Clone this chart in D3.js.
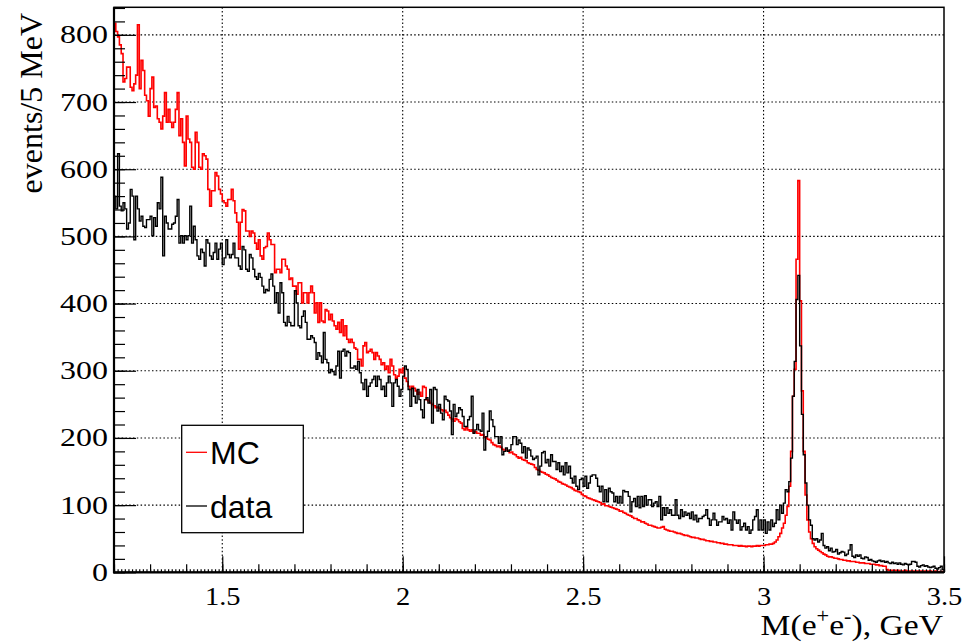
<!DOCTYPE html>
<html>
<head>
<meta charset="utf-8">
<script src="https://cdn.jsdelivr.net/npm/d3@7"></script>
<style>
  body { margin: 0; background: #fff; }
</style>
</head>
<body>
<script>
// histogram binning: 5 MeV bins from 1.2 GeV
const binLow = 1.2;
const binWidth = 0.005;

// MC counts per bin (rows of 10 bins)
const mcCounts = [
  817, 805, 797, 785, 772, 730, 735, 752, 752, 722,
  717, 727, 740, 815, 720, 762, 747, 710, 702, 679,
  720, 737, 692, 694, 675, 670, 660, 679, 714, 670,
  689, 670, 662, 670, 689, 714, 650, 675, 640, 605,
  679, 645, 640, 603, 600, 655, 640, 603, 600, 623,
  620, 615, 570, 545, 568, 568, 595, 590, 570, 563,
  553, 550, 545, 555, 555, 570, 553, 535, 521, 481,
  521, 540, 538, 508, 508, 500, 508, 505, 490, 481,
  495, 471, 466, 483, 485, 505, 495, 488, 488, 446,
  451, 451, 446, 466, 466, 456, 451, 436, 438, 426,
  426, 414, 431, 431, 401, 416, 416, 401, 416, 426,
  416, 386, 401, 372, 401, 374, 372, 391, 389, 376,
  384, 374, 367, 362, 372, 357, 376, 352, 367, 347,
  342, 347, 342, 334, 332, 317, 317, 307, 337, 342,
  327, 329, 332, 327, 317, 327, 322, 317, 309, 312,
  302, 307, 297, 317, 307, 294, 289, 292, 302, 297,
  304, 289, 284, 277, 272, 277, 274, 270, 265, 268,
  262, 277, 275, 257, 255, 252, 250, 248, 245, 246,
  244, 242, 240, 241, 238, 234, 230, 228, 225, 229,
  227, 224, 222, 214, 212, 215, 212, 210, 212, 209,
  209, 207, 207, 204, 205, 201, 200, 198, 197, 193,
  190, 189, 187, 188, 186, 183, 182, 182, 181, 178,
  179, 176, 175, 172, 170, 171, 168, 167, 166, 163,
  162, 161, 160, 156, 153, 152, 150, 149, 148, 146,
  145, 143, 141, 140, 139, 137, 135, 134, 132, 131,
  130, 128, 127, 126, 124, 122, 121, 120, 119, 116,
  114, 113, 111, 110, 109, 108, 107, 106, 105, 104,
  101, 102, 99, 99, 98, 97, 96, 95, 94, 93,
  91, 91, 89, 88, 86, 85, 84, 82, 80, 80,
  78, 77, 75, 75, 73, 72, 70, 70, 69, 68,
  67, 66, 66, 67, 68, 64, 63, 62, 61, 61,
  60, 59, 58, 58, 57, 56, 55, 55, 54, 53,
  52, 52, 51, 51, 50, 49, 49, 48, 47, 47,
  46, 46, 45, 45, 44, 44, 43, 43, 42, 42,
  41, 41, 41, 40, 40, 40, 39, 40, 39, 39,
  38, 39, 39, 38, 39, 39, 40, 39, 40, 40,
  40, 41, 41, 42, 42, 43, 45, 48, 53, 58,
  66, 73, 85, 98, 128, 180, 262, 302, 466, 583,
  404, 270, 180, 115, 78, 60, 50, 43, 38, 35,
  33, 31, 29, 27, 26, 24, 23, 23, 22, 21,
  21, 20, 19, 19, 18, 18, 17, 17, 16, 16,
  16, 15, 15, 14, 14, 14, 13, 13, 13, 12,
  12, 12, 11, 11, 10, 10, 9, 9, 4, 3,
  3, 3, 3, 3, 3, 2, 2, 2, 3, 2,
  2, 2, 2, 1, 2, 2, 2, 2, 1, 2,
  2, 1, 2, 1, 1, 2, 1, 1, 1, 1
];

// data counts per bin (rows of 10 bins)
const dataCounts = [
  560, 541, 623, 545, 538, 550, 541, 511, 520, 570,
  560, 495, 560, 541, 523, 530, 515, 513, 525, 525,
  530, 501, 528, 515, 550, 541, 588, 471, 530, 520,
  511, 511, 518, 520, 530, 555, 490, 501, 490, 501,
  495, 501, 545, 490, 515, 495, 471, 466, 481, 476,
  456, 495, 490, 471, 466, 476, 490, 466, 481, 490,
  458, 468, 495, 473, 468, 473, 490, 468, 468, 456,
  451, 485, 480, 451, 448, 473, 468, 451, 440, 436,
  445, 439, 426, 416, 421, 419, 436, 444, 426, 401,
  416, 386, 431, 416, 372, 367, 381, 372, 367, 367,
  419, 401, 367, 364, 381, 389, 372, 347, 347, 352,
  349, 342, 317, 327, 322, 312, 357, 317, 312, 297,
  302, 299, 294, 307, 329, 289, 329, 332, 322, 329,
  327, 304, 304, 307, 302, 314, 297, 282, 272, 287,
  262, 277, 282, 287, 292, 277, 292, 287, 272, 277,
  262, 282, 292, 282, 247, 282, 287, 277, 262, 272,
  292, 307, 302, 272, 247, 274, 262, 252, 272, 257,
  242, 230, 257, 260, 252, 272, 222, 275, 272, 240,
  250, 237, 227, 262, 257, 255, 240, 205, 250, 232,
  237, 245, 242, 232, 217, 217, 227, 232, 262, 207,
  212, 220, 212, 210, 237, 182, 202, 210, 240, 227,
  217, 202, 202, 192, 202, 175, 180, 185, 180, 182,
  190, 202, 202, 190, 197, 192, 178, 187, 170, 185,
  182, 173, 168, 170, 173, 145, 158, 178, 180, 163,
  168, 158, 175, 165, 165, 153, 163, 150, 158, 145,
  163, 148, 158, 140, 133, 143, 128, 123, 138, 140,
  128, 143, 125, 133, 143, 145, 145, 140, 128, 120,
  128, 105, 123, 105, 125, 120, 118, 105, 113, 103,
  113, 103, 122, 120, 120, 113, 90, 105, 110, 98,
  113, 96, 113, 98, 114, 100, 108, 108, 98, 103,
  105, 98, 113, 78, 96, 85, 96, 88, 93, 85,
  85, 108, 85, 80, 93, 83, 90, 85, 88, 80,
  90, 78, 85, 75, 80, 80, 83, 85, 93, 80,
  70, 78, 88, 78, 70, 75, 75, 83, 78, 80,
  73, 78, 63, 90, 78, 73, 78, 63, 68, 73,
  63, 68, 58, 63, 78, 83, 93, 63, 78, 63,
  78, 58, 75, 63, 78, 68, 73, 93, 78, 100,
  88, 103, 123, 120, 135, 170, 262, 314, 406, 442,
  337, 235, 175, 133, 100, 78, 70, 50, 48, 50,
  45, 48, 58, 40, 36, 38, 32, 36, 30, 31,
  34, 27, 29, 31, 30, 25, 27, 33, 41, 24,
  22, 26, 24, 26, 21, 20, 23, 22, 18, 19,
  17, 16, 15, 17, 18, 16, 17, 15, 16, 14,
  13, 15, 13, 14, 12, 14, 12, 11, 13, 12,
  11, 12, 16, 16, 15, 9, 8, 10, 11, 9,
  10, 8, 7, 8, 9, 6, 5, 7, 9, 4
];

const xTickValues = [1.5, 2, 2.5, 3, 3.5];
const yTickValues = [0, 100, 200, 300, 400, 500, 600, 700, 800];
const seriesNames = ["MC", "data"];
const seriesColors = ["#ff0000", "#000000"];
const seriesWidths = [1.6, 1.4];

const W = 969, H = 643;
const frame = { left: 114, right: 944, top: 7.3, bottom: 572.3 };

const x = d3.scaleLinear().domain([1.2, 3.5]).range([frame.left, frame.right]);
const y = d3.scaleLinear().domain([0, 841]).range([frame.bottom, frame.top]);

const svg = d3.select("body").append("svg")
  .attr("width", W).attr("height", H)
  .attr("xmlns", "http://www.w3.org/2000/svg");

// dotted grid at major ticks
const grid = svg.append("g")
  .attr("stroke", "#000").attr("stroke-width", 1.1)
  .attr("stroke-dasharray", "1.5,2.3");
grid.selectAll(".gx").data(xTickValues.filter(d => d < 3.5)).enter()
  .append("line")
  .attr("x1", d => x(d)).attr("x2", d => x(d))
  .attr("y1", frame.top).attr("y2", frame.bottom);
grid.selectAll(".gy").data(yTickValues.filter(d => d > 0)).enter()
  .append("line")
  .attr("x1", frame.left).attr("x2", frame.right)
  .attr("y1", d => y(d)).attr("y2", d => y(d));

// histograms as step outlines
function stepPoints(counts) {
  const pts = counts.map((v, i) => [binLow + i * binWidth, v]);
  pts.push([binLow + counts.length * binWidth, counts[counts.length - 1]]);
  return pts;
}
const step = d3.line()
  .x(d => x(d[0])).y(d => y(d[1]))
  .curve(d3.curveStepAfter);

[mcCounts, dataCounts].forEach((counts, k) => {
  svg.append("path")
    .attr("d", step(stepPoints(counts)))
    .attr("fill", "none")
    .attr("stroke", seriesColors[k])
    .attr("stroke-width", seriesWidths[k]);
});

// frame
svg.append("rect")
  .attr("x", frame.left).attr("y", frame.top)
  .attr("width", frame.right - frame.left)
  .attr("height", frame.bottom - frame.top)
  .attr("fill", "none").attr("stroke", "#000").attr("stroke-width", 1.5);

// axes
const fontSerif = "'Liberation Serif', 'Times New Roman', serif";

const xAxis = svg.append("g").attr("transform", `translate(0,${frame.bottom})`);
xAxis.call(d3.axisBottom(x).tickValues(d3.range(120, 351).map(i => i / 100))
  .tickSize(-3).tickFormat(""));
xAxis.call(g => g.selectAll(".domain").remove());
const xAxisMid = svg.append("g").attr("transform", `translate(0,${frame.bottom})`);
xAxisMid.call(d3.axisBottom(x).tickValues(d3.range(12, 36).map(i => i / 10))
  .tickSize(-8).tickFormat(""));
xAxisMid.call(g => g.selectAll(".domain").remove());
const xAxisMajor = svg.append("g").attr("transform", `translate(0,${frame.bottom})`);
xAxisMajor.call(d3.axisBottom(x).tickValues(xTickValues)
  .tickSize(-16).tickPadding(15).tickFormat(d3.format("~g")));
xAxisMajor.call(g => g.selectAll(".domain").remove());
xAxisMajor.selectAll("text")
  .attr("font-family", fontSerif).attr("font-size", 25).attr("fill", "#000")
  .attr("transform", "scale(1.14,1)");

const yAxisMinor = svg.append("g").attr("transform", `translate(${frame.left},0)`);
yAxisMinor.call(d3.axisLeft(y).tickValues(d3.range(0, 841, 20))
  .tickSize(-11).tickFormat(""));
yAxisMinor.call(g => g.selectAll(".domain").remove());
const yAxisMajor = svg.append("g").attr("transform", `translate(${frame.left},0)`);
yAxisMajor.call(d3.axisLeft(y).tickValues(yTickValues)
  .tickSize(-22).tickPadding(6));
yAxisMajor.call(g => g.selectAll(".domain").remove());
yAxisMajor.selectAll("text")
  .attr("font-family", fontSerif).attr("font-size", 25).attr("fill", "#000")
  .attr("x", -6 / 1.28)
  .attr("transform", "scale(1.28,1)");

svg.selectAll(".tick line").attr("stroke", "#000").attr("stroke-width", 1.2);

// thicker axis lines
svg.append("line")
  .attr("x1", frame.left).attr("x2", frame.left)
  .attr("y1", frame.top).attr("y2", frame.bottom + 1)
  .attr("stroke", "#000").attr("stroke-width", 2.2);
svg.append("line")
  .attr("x1", frame.left - 1).attr("x2", frame.right)
  .attr("y1", frame.bottom).attr("y2", frame.bottom)
  .attr("stroke", "#000").attr("stroke-width", 2.2);

// axis titles
const xTitle = svg.append("text")
  .attr("transform", "translate(943,635) scale(1.12,1)")
  .attr("text-anchor", "end")
  .attr("font-family", fontSerif).attr("font-size", 30).attr("fill", "#000");
xTitle.append("tspan").text("M(e");
xTitle.append("tspan").attr("dy", -12).attr("font-size", 20).text("+");
xTitle.append("tspan").attr("dy", 12).text("e");
xTitle.append("tspan").attr("dy", -12).attr("font-size", 20).text("-");
xTitle.append("tspan").attr("dy", 12).text("), GeV");

svg.append("text")
  .attr("transform", "translate(42,13) rotate(-90)")
  .attr("text-anchor", "end")
  .attr("font-family", fontSerif).attr("font-size", 32).attr("fill", "#000")
  .text("events/5 MeV");

// legend
const legend = svg.append("g");
legend.append("rect")
  .attr("x", 181.7).attr("y", 425.3)
  .attr("width", 121.6).attr("height", 107.4)
  .attr("fill", "#fff").attr("stroke", "#000").attr("stroke-width", 1.3);
const legendRows = [452.3, 506];
seriesNames.forEach((name, k) => {
  legend.append("line")
    .attr("x1", 186).attr("x2", 207)
    .attr("y1", legendRows[k]).attr("y2", legendRows[k])
    .attr("stroke", seriesColors[k]).attr("stroke-width", 1.3);
  legend.append("text")
    .attr("x", 210).attr("y", legendRows[k] + 12)
    .attr("font-family", "'Liberation Sans', Arial, sans-serif")
    .attr("font-size", 32).attr("fill", "#000")
    .text(name);
});
</script>
</body>
</html>
